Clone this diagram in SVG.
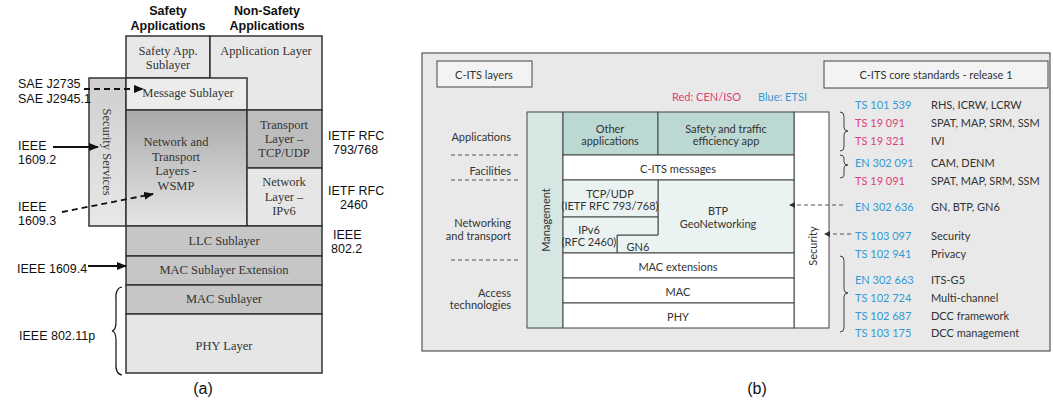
<svg xmlns="http://www.w3.org/2000/svg" width="1053" height="406" viewBox="0 0 1053 406">
<style>
.b{stroke:#333;stroke-width:1.5}
.t{font-family:"Liberation Serif",serif;font-size:12.5px;fill:#333;text-anchor:middle;dominant-baseline:central}
.h{font-family:"Liberation Sans",Arial,sans-serif;font-size:12.5px;font-weight:bold;fill:#111;text-anchor:middle}
.l{font-family:"Liberation Sans",Arial,sans-serif;font-size:12.5px;fill:#111;dominant-baseline:central}
.bx{stroke:#444;stroke-width:1}
.s{font-family:Lato,"Open Sans",sans-serif;font-size:11px;fill:#333;dominant-baseline:central}
.c{text-anchor:middle}
.r{text-anchor:end}
.blue{fill:#3399d6}
.red{fill:#e0407a}
.dl{stroke:#555;stroke-width:1;stroke-dasharray:4 3;fill:none}
.cap{font-family:"Liberation Sans",Arial,sans-serif;font-size:16px;fill:#111;text-anchor:middle}
</style>
<defs>
<linearGradient id="g1" x1="0" y1="0" x2="0" y2="1"><stop offset="0" stop-color="#a9a9a9"/><stop offset="1" stop-color="#e6e6e6"/></linearGradient>
<linearGradient id="g2" x1="0" y1="0" x2="0" y2="1"><stop offset="0" stop-color="#cfcfcf"/><stop offset="1" stop-color="#e8e8e8"/></linearGradient>
<marker id="ah" markerWidth="10" markerHeight="8" refX="9" refY="4" orient="auto" markerUnits="userSpaceOnUse"><path d="M0,0 L10,4 L0,8 Z" fill="#111"/></marker>
<marker id="sh" markerWidth="6" markerHeight="6" refX="5" refY="3" orient="auto" markerUnits="userSpaceOnUse"><path d="M0,0 L6,3 L0,6 Z" fill="#333"/></marker>
</defs>
<rect width="1053" height="406" fill="#fff"/>

<!-- Part (a) -->
<g id="a-titles">
<text class="h" x="168" y="15">Safety</text>
<text class="h" x="168" y="30">Applications</text>
<text class="h" x="267" y="15">Non-Safety</text>
<text class="h" x="267" y="30">Applications</text>
</g>
<g id="a-safetyapp"><rect class="b" x="126" y="36" width="84" height="42" fill="#e8e8e8"/><text class="t" x="168" y="51">Safety App.</text><text class="t" x="168" y="65">Sublayer</text></g>
<g id="a-applayer"><rect class="b" x="210" y="36" width="112" height="74" fill="#e8e8e8"/><text class="t" x="266" y="51">Application Layer</text></g>
<g id="a-security"><rect class="b" x="89" y="78" width="37" height="148" fill="url(#g2)"/><text class="t" transform="translate(107,152) rotate(90)" x="0" y="0">Security Services</text></g>
<g id="a-message"><rect class="b" x="126" y="78" width="121" height="32" fill="#ececec"/><text class="t" x="188" y="93">Message Sublayer</text></g>
<g id="a-wsmp"><rect class="b" x="126" y="110" width="121" height="116" fill="url(#g1)"/><text class="t" x="176" y="142">Network and</text><text class="t" x="176" y="157">Transport</text><text class="t" x="176" y="171">Layers -</text><text class="t" x="176" y="186">WSMP</text></g>
<g id="a-transport"><rect class="b" x="247" y="110" width="75" height="58" fill="#bdbdbd"/><text class="t" x="284" y="125">Transport</text><text class="t" x="284" y="139">Layer –</text><text class="t" x="284" y="153">TCP/UDP</text></g>
<g id="a-network"><rect class="b" x="247" y="168" width="75" height="58" fill="#e6e6e6"/><text class="t" x="284" y="182">Network</text><text class="t" x="284" y="197">Layer –</text><text class="t" x="284" y="211">IPv6</text></g>
<g id="a-llc"><rect class="b" x="126" y="226" width="196" height="30" fill="#c6c6c6"/><text class="t" x="224" y="241">LLC Sublayer</text></g>
<g id="a-macext"><rect class="b" x="126" y="256" width="196" height="29" fill="#c6c6c6"/><text class="t" x="224" y="270">MAC Sublayer Extension</text></g>
<g id="a-mac"><rect class="b" x="126" y="285" width="196" height="29" fill="#c6c6c6"/><text class="t" x="224" y="299">MAC Sublayer</text></g>
<g id="a-phy"><rect class="b" x="126" y="314" width="196" height="59" fill="#e6e6e6"/><text class="t" x="224" y="346">PHY Layer</text></g>

<g id="a-labels">
<text class="l" x="18" y="84" font-size="11.5">SAE J2735</text>
<text class="l" x="18" y="99" font-size="11.5">SAE J2945.1</text>
<text class="l" x="18" y="146">IEEE</text>
<text class="l" x="18" y="160">1609.2</text>
<text class="l" x="18" y="207">IEEE</text>
<text class="l" x="18" y="221">1609.3</text>
<text class="l" x="17" y="269">IEEE 1609.4</text>
<text class="l" x="19" y="336">IEEE 802.11p</text>
<text class="l" x="328" y="136">IETF RFC</text>
<text class="l" x="333" y="150">793/768</text>
<text class="l" x="328" y="191">IETF RFC</text>
<text class="l" x="340" y="205">2460</text>
<text class="l" x="333" y="235">IEEE</text>
<text class="l" x="331" y="249">802.2</text>
<text class="cap" x="203" y="394">(a)</text>
</g>

<g id="a-connectors" fill="none" stroke="#111">
<path d="M84,89 L143,89" stroke-width="1.8" stroke-dasharray="6 4" marker-end="url(#ah)"/>
<path d="M53,147 L98,147" stroke-width="1.8" marker-end="url(#ah)"/>
<path d="M62,212 L153,194" stroke-width="1.8" stroke-dasharray="6 4" marker-end="url(#ah)"/>
<path d="M88,266 L126,266" stroke-width="1.8" marker-end="url(#ah)"/>
<path d="M122,287 Q115,288 116,300 L116,322 Q116,330 112,331 Q116,332 116,340 L116,362 Q115,374 122,375" stroke-width="1.2"/>
</g>

<!-- Part (b) -->
<g id="b-panel"><rect x="422" y="53" width="628" height="298" fill="#e9e9e9" stroke="#555" stroke-width="1.2"/></g>
<g id="b-layers-title"><rect class="bx" x="437" y="61" width="95" height="26" fill="#f3f3f3"/><text class="s c" x="484" y="74" font-size="11.5">C-ITS layers</text></g>
<g id="b-std-title"><rect class="bx" x="824" y="61" width="224" height="27" fill="#f3f3f3"/><text class="s c" x="936" y="74.5" font-size="11.5">C-ITS core standards - release 1</text></g>
<g id="b-legend"><text class="s red" x="672" y="96">Red: CEN/ISO</text><text class="s blue" x="758" y="96">Blue: ETSI</text></g>

<g id="b-left-labels">
<text class="s r" x="511" y="136">Applications</text>
<text class="s r" x="511" y="170">Facilities</text>
<text class="s r" x="511" y="222">Networking</text>
<text class="s r" x="511" y="235">and transport</text>
<text class="s r" x="511" y="292">Access</text>
<text class="s r" x="511" y="304">technologies</text>
<path d="M451,155 H519 M451,180 H519 M451,260 H519" stroke="#555" stroke-width="1" stroke-dasharray="4 3"/>
</g>

<g id="b-management"><rect class="bx" x="527" y="112" width="36" height="216" fill="#d6e6e2"/><text class="s c" transform="translate(545,220) rotate(-90)" x="0" y="0" font-size="12">Management</text></g>
<g id="b-security"><rect class="bx" x="794" y="112" width="35" height="216" fill="#fff"/><text class="s c" transform="translate(812,246) rotate(-90)" x="0" y="0" font-size="11.5">Security</text></g>
<g id="b-otherapps"><rect class="bx" x="563" y="112" width="95" height="43" fill="#bcd8d2"/><text class="s c" x="610" y="128">Other</text><text class="s c" x="610" y="140">applications</text></g>
<g id="b-safetyapp"><rect class="bx" x="658" y="112" width="136" height="43" fill="#bcd8d2"/><text class="s c" x="726" y="128">Safety and traffic</text><text class="s c" x="726" y="140">efficiency app</text></g>
<g id="b-messages"><rect class="bx" x="563" y="155" width="231" height="25" fill="#fff"/><text class="s c" x="678" y="168">C-ITS messages</text></g>
<g id="b-btp"><path class="bx" d="M658,180 H794 V253 H617 V235 H658 Z" fill="#eaf3f1"/><text class="s c" x="718" y="210">BTP</text><text class="s c" x="718" y="223">GeoNetworking</text></g>
<g id="b-tcp"><rect class="bx" x="563" y="180" width="95" height="37" fill="#eaf3f1"/><text class="s c" x="610" y="193">TCP/UDP</text><text class="s c" x="610" y="205">(IETF RFC 793/768)</text></g>
<g id="b-ipv6"><path class="bx" d="M563,217 H658 V235 H617 V253 H563 Z" fill="#eaf3f1"/><text class="s c" x="589" y="229">IPv6</text><text class="s c" x="589" y="241">(RFC 2460)</text></g>
<g id="b-gn6"><text class="s c" x="638" y="246">GN6</text></g>
<g id="b-macext"><rect class="bx" x="563" y="253" width="231" height="25" fill="#fff"/><text class="s c" x="678" y="266">MAC extensions</text></g>
<g id="b-mac"><rect class="bx" x="563" y="278" width="231" height="25" fill="#fff"/><text class="s c" x="678" y="291">MAC</text></g>
<g id="b-phy"><rect class="bx" x="563" y="303" width="231" height="25" fill="#fff"/><text class="s c" x="678" y="316">PHY</text></g>

<g id="b-standards">
<text class="s blue" x="855" y="104">TS 101 539</text><text class="s" x="931" y="104">RHS, ICRW, LCRW</text>
<text class="s red" x="855" y="122">TS 19 091</text><text class="s" x="931" y="122">SPAT, MAP, SRM, SSM</text>
<text class="s red" x="855" y="140">TS 19 321</text><text class="s" x="931" y="140">IVI</text>
<text class="s blue" x="855" y="162">EN 302 091</text><text class="s" x="931" y="162">CAM, DENM</text>
<text class="s red" x="855" y="180">TS 19 091</text><text class="s" x="931" y="180">SPAT, MAP, SRM, SSM</text>
<text class="s blue" x="855" y="206">EN 302 636</text><text class="s" x="931" y="206">GN, BTP, GN6</text>
<text class="s blue" x="855" y="235">TS 103 097</text><text class="s" x="931" y="235">Security</text>
<text class="s blue" x="855" y="253">TS 102 941</text><text class="s" x="931" y="253">Privacy</text>
<text class="s blue" x="855" y="279">EN 302 663</text><text class="s" x="931" y="279">ITS-G5</text>
<text class="s blue" x="855" y="297">TS 102 724</text><text class="s" x="931" y="297">Multi-channel</text>
<text class="s blue" x="855" y="315">TS 102 687</text><text class="s" x="931" y="315">DCC framework</text>
<text class="s blue" x="855" y="332">TS 103 175</text><text class="s" x="931" y="332">DCC management</text>
<text class="cap" x="757" y="394">(b)</text>
</g>

<g id="b-connectors" fill="none" stroke="#444" stroke-width="1">
<path d="M840,112 Q844,112 844,116 L844,127 Q844,131 848,131 Q844,131 844,135 L844,147 Q844,151 840,151"/>
<path d="M840,155 Q844,155 844,158 L844,162 Q844,165 848,165 Q844,165 844,168 L844,175 Q844,178 840,178"/>
<path d="M840,256 Q844,256 844,260 L844,289 Q844,293 848,293 Q844,293 844,297 L844,328 Q844,332 840,332"/>
<path class="dl" d="M843,205 L790,205" marker-end="url(#sh)"/>
<path class="dl" d="M851,234 L825,234" marker-end="url(#sh)"/>
</g>
</svg>
